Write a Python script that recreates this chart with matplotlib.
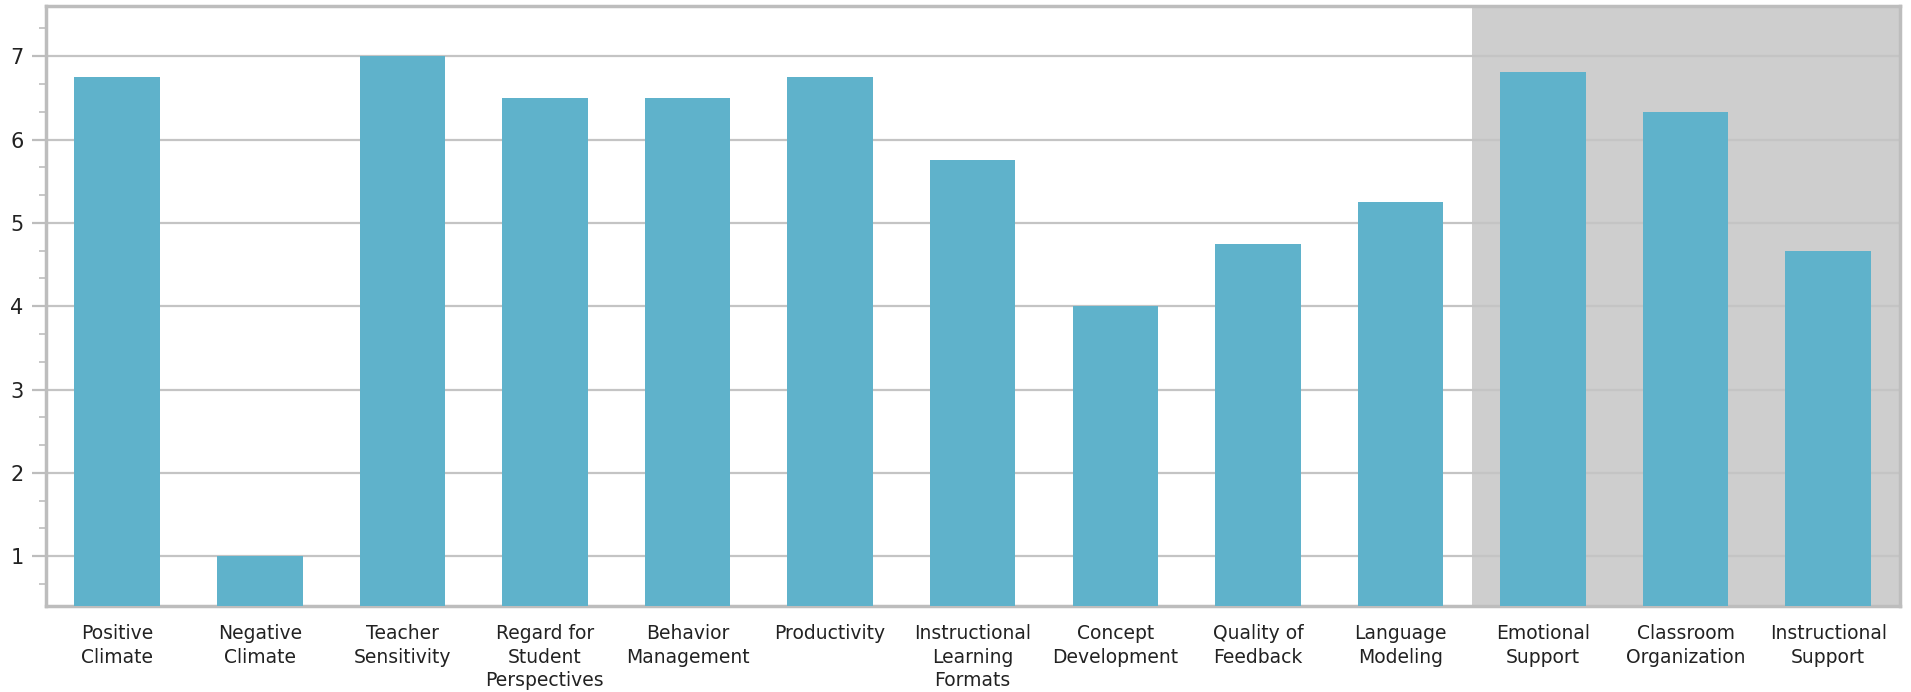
import matplotlib.pyplot as plt
from matplotlib.ticker import MultipleLocator

categories = [
    "Positive\nClimate", "Negative\nClimate", "Teacher\nSensitivity",
    "Regard for\nStudent\nPerspectives", "Behavior\nManagement", "Productivity",
    "Instructional\nLearning\nFormats", "Concept\nDevelopment", "Quality of\nFeedback",
    "Language\nModeling", "Emotional\nSupport", "Classroom\nOrganization",
    "Instructional\nSupport",
]
scores = [6.75, 1.0, 7.0, 6.5, 6.5, 6.75, 5.75, 4.0, 4.75, 5.25, 6.8125, 6.333, 4.667]
domain_start = 10  # first domain summary bar (shaded area)

frame_col = "#bdbdbd"
bar_col = "#5fb2cb"
text_col = "#222222"

fig = plt.figure(figsize=(19.11, 6.92), dpi=100)
ax = fig.add_axes([0.024, 0.124, 0.970, 0.867])

x = list(range(len(categories)))
ax.axvspan(domain_start - 0.5, len(categories) - 0.5, color="#cecece", zorder=0, lw=0)
ax.bar(x, scores, width=0.6, color=bar_col, zorder=3)

ax.set_xlim(-0.5, len(categories) - 0.5)
ax.set_ylim(0.4, 7.6)
ax.yaxis.set_major_locator(MultipleLocator(1))
ax.yaxis.set_minor_locator(MultipleLocator(1 / 3))
ax.grid(axis="y", which="major", color="#c4c4c4", lw=1.6, zorder=1)

ax.set_xticks(x)
ax.set_xticklabels(categories, fontsize=13.5, color=text_col, linespacing=1.3,
                   family="DejaVu Sans")
ax.tick_params(axis="x", length=0, pad=13)
ax.tick_params(axis="y", which="major", length=10, width=1.6, color=frame_col,
               labelsize=15, labelcolor=text_col, pad=6)
ax.tick_params(axis="y", which="minor", length=5, width=1.2, color=frame_col)

for s in ax.spines.values():
    s.set_color(frame_col)
    s.set_linewidth(2.5)

fig.savefig("out.png", dpi=100)
